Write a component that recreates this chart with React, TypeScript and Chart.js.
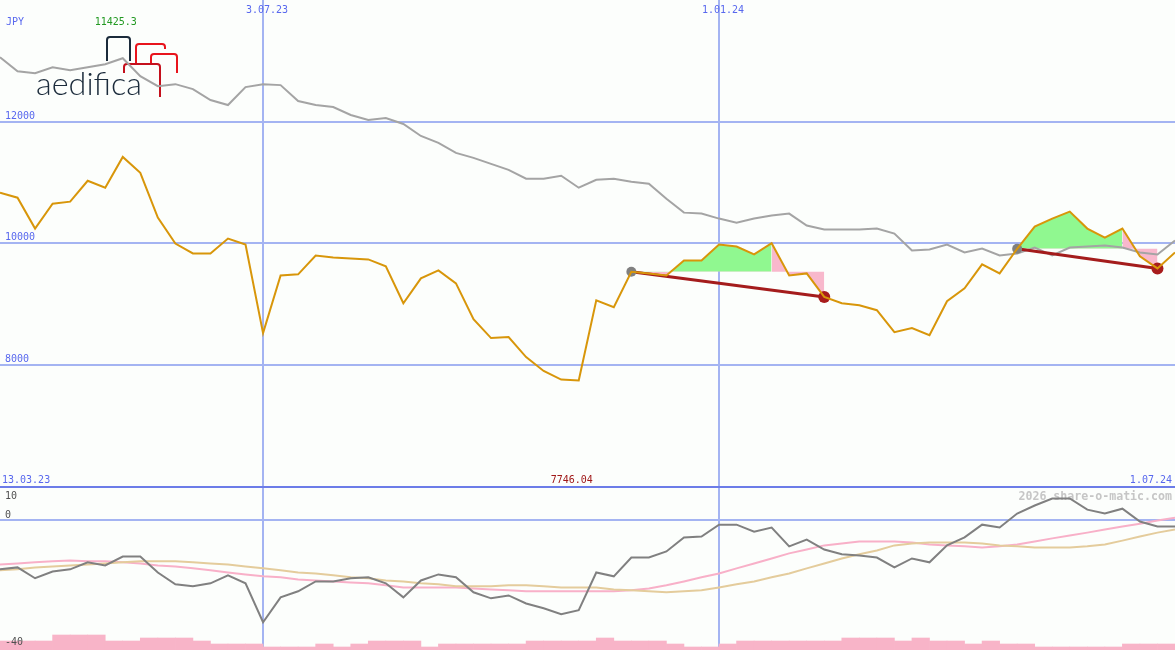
import React, { useEffect, useRef } from 'react';
import { Chart, registerables } from 'chart.js';

Chart.register(...registerables);

// ---------- data ----------
const CURRENCY = 'JPY';
const START_DATE = '13.03.23';
const END_DATE = '1.07.24';
const DATE_TICKS = ['3.07.23', '1.01.24'];
const DATE_TICK_INDEX = [15, 41];
const PRICE_TICKS = [12000, 10000, 8000];
const PANEL_FLOOR = 6000;
const INDICATOR_TICKS = [10, 0, -40];
const MAX_LABEL = '11425.3';
const MIN_LABEL = '7746.04';
const WATERMARK = '2026 share-o-matic.com';
const LOGO_TEXT = 'aedifica';

// weekly closing price (JPY)
const PRICE = [
  10836, 10754, 10246, 10656, 10689, 11033, 10918, 11425.3, 11164, 10426,
  10000, 9836, 9836, 10082, 9984, 8525, 9475, 9492, 9803, 9770,
  9754, 9738, 9623, 9016, 9426, 9557, 9344, 8754, 8443, 8459,
  8131, 7902, 7760, 7746.04, 9066, 8951, 9535, 9508, 9475, 9721,
  9721, 9984, 9951, 9820, 10005, 9475, 9508, 9120, 9016, 8984,
  8902, 8541, 8607, 8492, 9049, 9262, 9656, 9508, 9913, 10279,
  10410, 10525, 10246, 10098, 10246, 9790, 9590, 9852,
];

// comparison line (grey)
const BENCH = [
  13066, 12836, 12803, 12902, 12852, 12902, 12951, 13049, 12754, 12590,
  12623, 12541, 12361, 12279, 12574, 12623, 12607, 12344, 12279, 12246,
  12115, 12033, 12066, 11967, 11770, 11656, 11492, 11410, 11311, 11213,
  11066, 11066, 11115, 10918, 11049, 11066, 11016, 10984, 10738, 10508,
  10492, 10410, 10344, 10410, 10459, 10492, 10295, 10230, 10230, 10230,
  10246, 10164, 9885, 9902, 9984, 9852, 9918, 9803, 9836, 9934,
  9803, 9934, 9951, 9967, 9934, 9852, 9820, 10049,
];

// lower panel: momentum (dark grey)
const MOMENTUM = [
  -15.6, -15.0, -18.4, -16.3, -15.6, -13.4, -14.4, -11.6, -11.6, -16.6,
  -20.3, -20.9, -20.0, -17.5, -20.0, -32.2, -24.4, -22.5, -19.4, -19.4,
  -18.4, -18.1, -20.0, -24.4, -19.1, -17.2, -18.1, -22.8, -24.7, -23.8,
  -26.3, -27.8, -29.7, -28.4, -16.6, -17.8, -11.9, -11.9, -10.0, -5.6,
  -5.3, -1.6, -1.6, -3.8, -2.5, -8.4, -6.3, -9.4, -10.9, -11.3,
  -11.9, -15.0, -12.2, -13.4, -8.1, -5.6, -1.6, -2.5, 1.9, 4.4,
  6.6, 6.6, 3.1, 1.9, 3.4, -0.6, -2.2, -2.2,
];

// lower panel: fast average (pink)
const AVG_FAST = [
  -14.1, -13.8, -13.4, -13.1, -12.8, -13.1, -13.1, -13.4, -13.8, -14.4,
  -14.7, -15.3, -15.9, -16.6, -17.2, -17.8, -18.1, -18.8, -19.1, -19.4,
  -19.7, -20.0, -20.6, -21.3, -21.3, -21.3, -21.3, -21.6, -21.9, -22.2,
  -22.5, -22.5, -22.5, -22.5, -22.5, -22.5, -22.2, -21.6, -20.6, -19.4,
  -18.1, -16.9, -15.3, -13.8, -12.2, -10.6, -9.4, -8.1, -7.5, -6.9,
  -6.9, -6.9, -7.2, -7.8, -8.1, -8.4, -8.8, -8.4, -7.8, -6.9,
  -5.9, -5.0, -4.1, -3.1, -2.2, -1.3, -0.3, 0.6,
];

// lower panel: slow average (tan)
const AVG_SLOW = [
  -15.9, -15.6, -15.0, -14.7, -14.4, -14.1, -13.8, -13.4, -13.1, -13.1,
  -13.1, -13.4, -13.8, -14.1, -14.7, -15.3, -15.9, -16.6, -16.9, -17.5,
  -18.1, -18.4, -19.1, -19.4, -20.0, -20.3, -20.9, -20.9, -20.9, -20.6,
  -20.6, -20.9, -21.3, -21.3, -21.3, -21.9, -22.2, -22.5, -22.8, -22.5,
  -22.2, -21.3, -20.3, -19.4, -18.1, -16.9, -15.3, -13.8, -12.2, -10.9,
  -9.7, -8.1, -7.5, -7.2, -7.2, -7.2, -7.5, -8.1, -8.4, -8.8,
  -8.8, -8.8, -8.4, -7.8, -6.6, -5.3, -4.1, -3.1,
];

// weekly volume (relative units)
const VOLUME = [
  3, 3, 3, 5, 5, 5, 3, 3, 4, 4,
  4, 3, 2, 2, 2, 1, 1, 1, 2, 1,
  2, 3, 3, 3, 1, 2, 2, 2, 2, 2,
  3, 3, 3, 3, 4, 3, 3, 3, 2, 1,
  1, 2, 3, 3, 3, 3, 3, 3, 4, 4,
  4, 3, 4, 3, 3, 2, 3, 2, 2, 1,
  1, 1, 1, 1, 2, 2, 2,
];

// trades: entry week, last rising week, exit week
const TRADE_ENTRY = [36, 58];
const TRADE_PEAK = [44, 64];
const TRADE_EXIT = [47, 66];

// ---------- axis ranges (whole canvas is the chart area) ----------
const PRICE_MAX = 14008;
const PRICE_MIN = 3309;
const IND_MAX = 162.9;
const IND_MIN = -40.9;
const VOL_MAX = 216.7;

const COL = {
  bg: '#fcfefc',
  grid: '#a4b4f2',
  gridDark: '#6c7ce8',
  text: '#5868ee',
  green: '#229922',
  red: '#a01818',
  price: '#d8960a',
  bench: '#a4a4a4',
  mom: '#808080',
  fast: '#f8b0c8',
  slow: '#e4cc9c',
  vol: '#f8b4c8',
  fillUp: '#90f890',
  fillDown: '#f8b8cc',
  trade: '#a41c1c',
  entry: '#808080',
  exit: '#a81c1c',
};

const pts = (arr: number[], from = 0, to = arr.length - 1) =>
  arr.slice(from, to + 1).map((v, i) => ({ x: from + i, y: v }));

function drawU(ctx: CanvasRenderingContext2D, x1: number, x2: number, top: number, lb: number, rb: number, color: string) {
  const r = 3;
  ctx.beginPath();
  ctx.moveTo(x1, lb);
  ctx.lineTo(x1, top + r);
  ctx.arcTo(x1, top, x1 + r, top, r);
  ctx.lineTo(x2 - r, top);
  ctx.arcTo(x2, top, x2, top + r, r);
  ctx.lineTo(x2, rb);
  ctx.strokeStyle = color;
  ctx.lineWidth = 2;
  ctx.stroke();
}

const bgPlugin = {
  id: 'bgPlugin',
  beforeDraw(chart: any) {
    const ctx = chart.ctx;
    ctx.save();
    ctx.fillStyle = COL.bg;
    ctx.fillRect(0, 0, chart.width, chart.height);
    ctx.restore();
  },
};

const decorPlugin = {
  id: 'decorPlugin',
  beforeDatasetsDraw(chart: any) {
    const ctx: CanvasRenderingContext2D = chart.ctx;
    const { x, y, ind } = chart.scales;
    const W = chart.width;
    const H = chart.height;
    ctx.save();

    // horizontal grid (price)
    ctx.lineWidth = 2;
    ctx.strokeStyle = COL.grid;
    PRICE_TICKS.forEach((v) => {
      const py = Math.round(y.getPixelForValue(v));
      ctx.beginPath();
      ctx.moveTo(0, py);
      ctx.lineTo(W, py);
      ctx.stroke();
    });
    // indicator zero line
    const zy = Math.round(ind.getPixelForValue(0));
    ctx.beginPath();
    ctx.moveTo(0, zy);
    ctx.lineTo(W, zy);
    ctx.stroke();
    // vertical date lines
    DATE_TICK_INDEX.forEach((i) => {
      const px = Math.round(x.getPixelForValue(i));
      ctx.beginPath();
      ctx.moveTo(px, 0);
      ctx.lineTo(px, H);
      ctx.stroke();
    });
    // panel separator
    const fy = Math.round(y.getPixelForValue(PANEL_FLOOR));
    ctx.strokeStyle = COL.gridDark;
    ctx.beginPath();
    ctx.moveTo(0, fy);
    ctx.lineTo(W, fy);
    ctx.stroke();

    // texts
    ctx.font = '10px "DejaVu Sans Mono", monospace';
    ctx.textBaseline = 'alphabetic';
    ctx.fillStyle = COL.text;
    ctx.textAlign = 'left';
    ctx.fillText(CURRENCY, 6, 25);
    PRICE_TICKS.forEach((v) => {
      const py = Math.round(y.getPixelForValue(v));
      ctx.fillText(String(v), 5, py - 3);
    });
    ctx.textAlign = 'center';
    DATE_TICKS.forEach((t, k) => {
      const px = x.getPixelForValue(DATE_TICK_INDEX[k]);
      ctx.fillText(t, px + 4, 13);
    });
    ctx.textAlign = 'left';
    ctx.fillText(START_DATE, 2, fy - 4);
    ctx.textAlign = 'right';
    ctx.fillText(END_DATE, W - 3, fy - 4);

    // extreme values
    const maxI = PRICE.indexOf(Math.max(...PRICE));
    const minI = PRICE.indexOf(Math.min(...PRICE));
    ctx.textAlign = 'center';
    ctx.fillStyle = COL.green;
    ctx.fillText(MAX_LABEL, x.getPixelForValue(maxI) - 7, 25);
    ctx.fillStyle = COL.red;
    ctx.fillText(MIN_LABEL, x.getPixelForValue(minI) - 7, fy - 4);

    // watermark
    ctx.font = 'bold 11.6px "DejaVu Sans Mono", monospace';
    ctx.fillStyle = '#c6c6c6';
    ctx.textAlign = 'right';
    ctx.fillText(WATERMARK, W - 3, fy + 13);

    // logo
    drawU(ctx, 107, 130, 37, 61, 61, '#1b2b3b');
    drawU(ctx, 136, 165, 44, 63, 49, '#e8141c');
    drawU(ctx, 151, 177, 54, 63, 73, '#e8141c');
    drawU(ctx, 124, 160, 64, 73, 97, '#c4101c');
    ctx.font = '300 31px Lato, "Liberation Sans", sans-serif';
    const w = ctx.measureText(LOGO_TEXT).width;
    ctx.save();
    ctx.translate(36, 95);
    ctx.scale(106 / w, 1);
    ctx.fillStyle = '#1b2b3b';
    ctx.textAlign = 'left';
    ctx.fillText(LOGO_TEXT, 0, 0);
    ctx.restore();

    ctx.restore();
  },
  afterDatasetsDraw(chart: any) {
    const ctx: CanvasRenderingContext2D = chart.ctx;
    const { y, ind } = chart.scales;
    const H = chart.height;
    const fy = Math.round(y.getPixelForValue(PANEL_FLOOR));
    ctx.save();
    ctx.font = '10px "DejaVu Sans Mono", monospace';
    ctx.textBaseline = 'alphabetic';
    ctx.fillStyle = '#505050';
    ctx.textAlign = 'left';
    INDICATOR_TICKS.forEach((v) => {
      const py = ind.getPixelForValue(v);
      const ty = Math.max(py - 2, fy + 12);
      ctx.fillText(String(v), 5, Math.min(ty, H - 3));
    });
    ctx.restore();
  },
};

export default function App() {
  const ref = useRef<HTMLCanvasElement | null>(null);

  useEffect(() => {
    if (!ref.current) return;
    const datasets: any[] = [];

    // price line on top
    datasets.push({
      type: 'line', data: pts(PRICE), borderColor: COL.price, borderWidth: 2,
      pointRadius: 0, tension: 0, yAxisID: 'y', order: 1,
    });

    // trades
    TRADE_ENTRY.forEach((e, k) => {
      const x2 = TRADE_EXIT[k];
      const p = TRADE_PEAK[k];
      const base = PRICE[e];
      datasets.push({
        type: 'line',
        data: [{ x: e, y: PRICE[e] }, { x: x2, y: PRICE[x2] }],
        borderColor: COL.trade, borderWidth: 3,
        pointRadius: [5, 6], pointBackgroundColor: [COL.entry, COL.exit],
        pointBorderWidth: 0, yAxisID: 'y', order: 2,
      });
      // rising part
      datasets.push({
        type: 'line', data: pts(PRICE, e, p), borderWidth: 0, pointRadius: 0,
        fill: { target: { value: base }, above: COL.fillUp, below: COL.fillDown },
        yAxisID: 'y', order: 4,
      });
      // falling part
      datasets.push({
        type: 'line', data: pts(PRICE, p, x2), borderWidth: 0, pointRadius: 0,
        fill: { target: { value: base }, above: COL.fillDown, below: COL.fillDown },
        yAxisID: 'y', order: 4,
      });
    });

    datasets.push({
      type: 'line', data: pts(BENCH), borderColor: COL.bench, borderWidth: 2,
      pointRadius: 0, yAxisID: 'y', order: 3,
    });

    datasets.push({
      type: 'line', data: pts(MOMENTUM), borderColor: COL.mom, borderWidth: 2,
      pointRadius: 0, yAxisID: 'ind', order: 5,
    });
    datasets.push({
      type: 'line', data: pts(AVG_SLOW), borderColor: COL.slow, borderWidth: 2,
      pointRadius: 0, yAxisID: 'ind', order: 6,
    });
    datasets.push({
      type: 'line', data: pts(AVG_FAST), borderColor: COL.fast, borderWidth: 2,
      pointRadius: 0, yAxisID: 'ind', order: 7,
    });
    datasets.push({
      type: 'bar', data: VOLUME.map((v, i) => ({ x: i + 0.5, y: v })),
      backgroundColor: COL.vol, borderWidth: 0, barPercentage: 1, categoryPercentage: 1,
      yAxisID: 'vol', order: 8,
    });

    const chart = new Chart(ref.current, {
      type: 'line',
      data: { datasets },
      options: {
        animation: false,
        responsive: false,
        devicePixelRatio: 1,
        events: [],
        layout: { padding: 0, autoPadding: false },
        plugins: { legend: { display: false }, tooltip: { enabled: false } },
        scales: {
          x: { type: 'linear', min: 0, max: PRICE.length - 1, offset: false, display: false },
          y: { type: 'linear', min: PRICE_MIN, max: PRICE_MAX, display: false },
          ind: { type: 'linear', min: IND_MIN, max: IND_MAX, display: false },
          vol: { type: 'linear', min: 0, max: VOL_MAX, display: false },
        },
      },
      plugins: [bgPlugin, decorPlugin],
    } as any);

    return () => chart.destroy();
  }, []);

  return (
    <div style={{ position: 'absolute', left: 0, top: 0, width: 1175, height: 650 }}>
      <canvas ref={ref} width={1175} height={650} style={{ display: 'block' }} />
    </div>
  );
}
